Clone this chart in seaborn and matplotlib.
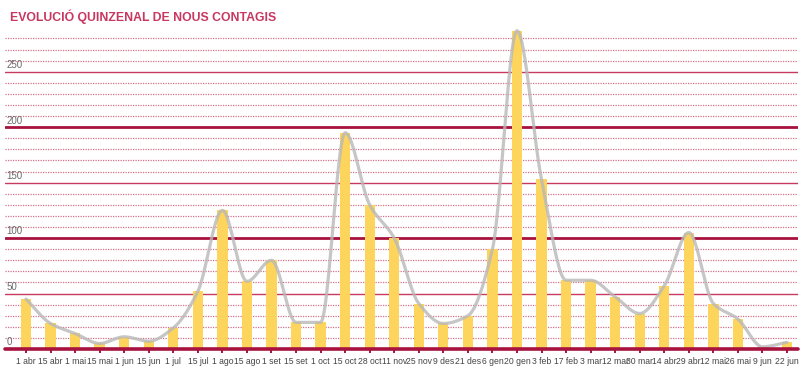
import numpy as np
import pandas as pd
import matplotlib
matplotlib.use("Agg")
import matplotlib.pyplot as plt
import seaborn as sns

categories = ["1 abr", "15 abr", "1 mai", "15 mai", "1 jun", "15 jun", "1 jul", "15 jul",
              "1 ago", "15 ago", "1 set", "15 set", "1 oct", "15 oct", "28 oct", "11 nov",
              "25 nov", "9 des", "21 des", "6 gen", "20 gen", "3 feb", "17 feb", "3 mar",
              "12 mar", "30 mar", "14 abr", "29 abr", "12 mai", "26 mai", "9 jun", "22 jun"]
values = [45, 23, 14, 5, 11, 7, 19, 52,
          125, 61, 80, 24, 24, 195, 130, 100,
          41, 23, 30, 90, 287, 153, 62, 62,
          47, 32, 57, 105, 41, 27, 2, 6]
ytick_values = [0, 50, 100, 150, 200, 250]
title = "EVOLUCIÓ QUINZENAL DE NOUS CONTAGIS"

sns.set_theme(style="white")
plt.rcParams['font.family'] = ['Liberation Sans', 'DejaVu Sans']

df = pd.DataFrame({"cat": categories, "val": values})

fig = plt.figure(figsize=(8.0, 3.72), dpi=100)
W, H = 800, 372
y0_px = 349
px_per_unit = 1.109
ymax = 290
ax_h = ymax * px_per_unit
ax = fig.add_axes([5 / W, (H - y0_px) / H, 793 / W, ax_h / H])

red_dark = "#a8123e"
red_mid = "#c83a5e"
red_dot = "#d4708a"

# gridlines
for v in range(10, 290, 10):
    if v in (100, 200):
        ax.axhline(v, color=red_dark, lw=2.0, zorder=0)
    elif v % 50 == 0:
        ax.axhline(v, color=red_mid, lw=1.0, zorder=0)
    else:
        ax.axhline(v, color=red_dot, lw=0.9, ls=(0, (1, 1)), zorder=0)

sns.barplot(data=df, x="cat", y="val", color="#fdd55c", width=0.42,
            saturation=1, ax=ax, zorder=2, linewidth=0, edgecolor="none")

# smooth monotone line through bar tops (PCHIP rendering)
x = np.arange(len(values), dtype=float)
y = np.array(values, dtype=float)
n = len(x)
d = np.diff(y)
m = np.zeros(n)
m[0], m[-1] = d[0], d[-1]
for i in range(1, n - 1):
    if d[i - 1] * d[i] <= 0:
        m[i] = 0.0
    else:
        m[i] = 2.0 / (1.0 / d[i - 1] + 1.0 / d[i])
xs, ys = [], []
for i in range(n - 1):
    t = np.linspace(0, 1, 24, endpoint=(i == n - 2))
    h00 = 2 * t**3 - 3 * t**2 + 1
    h10 = t**3 - 2 * t**2 + t
    h01 = -2 * t**3 + 3 * t**2
    h11 = t**3 - t**2
    xs.extend(x[i] + t)
    ys.extend(h00 * y[i] + h10 * m[i] + h01 * y[i + 1] + h11 * m[i + 1])
ax.plot(xs, ys, color="#b8b8b8", lw=2.3, alpha=0.8, zorder=3, solid_capstyle="round")

ax.axhline(0, color=red_dark, lw=2.6, zorder=4, clip_on=False)

ax.set_ylim(0, ymax)
px_unit_x = 761 / 31
x_left = -(26 - 5) / px_unit_x
ax.set_xlim(x_left, x_left + 793 / px_unit_x)

for v in ytick_values:
    ax.text(x_left + 1.5 / px_unit_x, v + 1.5, str(v),
            fontsize=7, color="#6a6a6a", ha="left", va="bottom", zorder=5)

ax.set_yticks([])
ax.set_xlabel("")
ax.set_ylabel("")
ax.set_xticks(range(len(categories)))
ax.set_xticklabels(categories, fontsize=6.2, color="#444444")
ax.tick_params(axis="x", length=3, width=1.4, color=red_dark, pad=3, bottom=True)
for s in ax.spines.values():
    s.set_visible(False)

fig.text(10 / W, 1 - 17 / H, title, fontsize=8.8, fontweight="bold", color="#c8375f",
         ha="left", va="center")

fig.savefig("out.png", dpi=100, facecolor="white")
